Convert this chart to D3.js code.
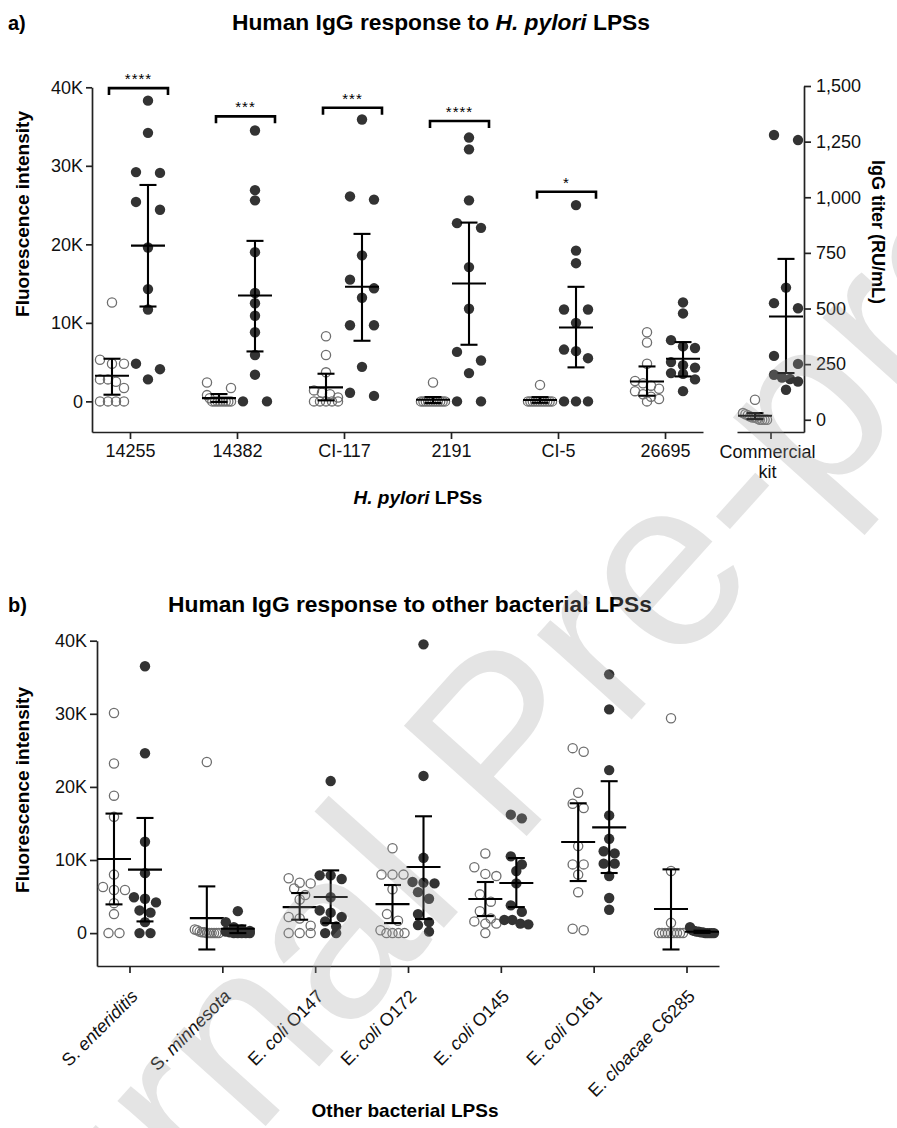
<!DOCTYPE html>
<html>
<head>
<meta charset="utf-8">
<script src="https://cdn.jsdelivr.net/npm/d3@7"></script>
<style>
  body { margin: 0; background: #fff; }
  text { font-family: "Liberation Sans", Arial, sans-serif; }
</style>
</head>
<body>
<svg id="fig" width="897" height="1128"></svg>
<script>
// ---- panel a: H. pylori LPSs (fluorescence) ----
var aCats = ["14255", "14382", "CI-117", "2191", "CI-5", "26695"];
var aCtrl = [
  [12600, 5300, 4800, 4800, 2800, 2500, 2800, 1700, 0, 0, 0, 0],
  [2400, 1700, 800, 400, 0, 0, 0, 0, 0, 0, 0, 0],
  [8300, 5900, 3700, 1400, 1100, 900, 500, 0, 0, 0, 0, 0],
  [2400, 0, 0, 0, 0, 0, 0, 0, 0, 0, 0, 0],
  [2100, 0, 0, 0, 0, 0, 0, 0, 0, 0, 0, 0],
  [8800, 7500, 4800, 2600, 2300, 2000, 1600, 1300, 900, 600, 300, 0]
];
var aPat = [
  [38300, 34200, 29100, 29200, 25400, 24400, 19600, 14300, 11700, 4800, 4100, 2800],
  [34500, 25600, 26900, 19000, 13800, 12500, 10900, 8800, 5900, 3400, 0, 0],
  [35900, 25700, 26100, 18600, 14400, 15500, 13200, 9700, 9700, 4400, 700, 1100],
  [33600, 32100, 25600, 22100, 22700, 17100, 11800, 6300, 5200, 3600, 0, 0],
  [25000, 19200, 17600, 11700, 11700, 10000, 6600, 6400, 5500, 0, 0, 0],
  [12600, 11200, 7800, 7000, 6800, 5000, 4600, 4300, 3600, 3500, 2800, 1300]
];
// mean, lower, upper (95% CI) as drawn
var aCtrlBar = [[3270, 850, 5430], [420, -80, 930], [1780, 130, 3520], [210, -210, 550], [180, -180, 540], [2540, 720, 4450]];
var aPatBar = [[19840, 12080, 27560], [13480, 6360, 20440], [14590, 7720, 21330], [15010, 7210, 22770], [9410, 4330, 14590], [5430, 3180, 7550]];
var aSig = ["****", "***", "***", "****", "*"];
var aSigAt = [39900, 36300, 37400, 35700, 26700];

// commercial kit (IgG titer, RU/mL)
var kitCtrl = [90, 30, 25, 20, 15, 10, 10, 5, 0, 0, 0, 0];
var kitPat = [1280, 1257, 594, 524, 501, 287, 251, 202, 190, 183, 172, 135];
var kitCtrlBar = [18, 3, 30];
var kitPatBar = [464, 210, 723];

// ---- panel b: other bacterial LPSs ----
var bCats = ["S. enteriditis", "S. minnesota", "E. coli O147", "E. coli O172", "E. coli O145", "E. coli O161", "E. cloacae C6285"];
var bCtrl = [
  [30100, 23200, 18800, 15900, 8000, 5900, 6300, 5900, 4100, 2600, 0, 0],
  [23400, 500, 400, 200, 100, 100, 0, 0, 0, 0, 0, 0],
  [7500, 6900, 6800, 6100, 5200, 4600, 2200, 2000, 1000, 0, 0, 0],
  [11600, 8000, 8000, 8000, 6000, 2600, 1700, 400, 0, 0, 0, 0],
  [10900, 9000, 8100, 7800, 5300, 4300, 3000, 2000, 1600, 1300, 1300, 0],
  [24800, 25300, 19200, 17100, 17700, 11900, 9400, 9400, 8000, 5600, 400, 600],
  [29400, 8500, 1400, 0, 0, 0, 0, 0, 0, 0, 0, 0]
];
var bPat = [
  [36500, 24600, 12500, 8200, 4700, 4900, 4200, 3100, 2800, 1500, 0, 0],
  [3000, 1500, 800, 500, 300, 200, 100, 0, 0, 0, 0, 0],
  [20800, 7900, 7400, 7900, 4900, 2800, 3100, 2200, 1600, 900, 0, 0],
  [39500, 21500, 10300, 7000, 6800, 6900, 5600, 4700, 2600, 1500, 1100, 200],
  [16200, 15700, 10500, 9400, 8500, 6800, 3800, 2900, 1800, 1800, 1300, 1200],
  [35400, 30600, 22300, 16100, 12900, 11200, 10900, 9500, 9500, 7800, 4800, 3200],
  [800, 400, 300, 200, 200, 100, 100, 0, 0, 0, 0, 0]
];
var bCtrlBar = [[10140, 3930, 16350], [2050, -2240, 6390], [3560, 1830, 5480], [3970, 1370, 6580], [4660, 2330, 6990], [12470, 7120, 17760], [3290, -2240, 8720]];
var bPatBar = [[8680, 1600, 15750], [590, 0, 1050], [4930, 1370, 8580], [9040, 1920, 15980], [6850, 3560, 10270], [14470, 8220, 20780], [180, 30, 330]];

var kTicks = [0, 10000, 20000, 30000, 40000];
var titerTicks = [0, 250, 500, 750, 1000, 1250, 1500];

var svg = d3.select("#fig");

function kfmt(d) { return d === 0 ? "0" : (d / 1000) + "K"; }

function styleAxis(g) {
  g.attr("font-family", "Liberation Sans, Arial, sans-serif").attr("font-size", 18);
  g.select(".domain").attr("stroke", "#222").attr("stroke-width", 1.7);
  g.selectAll(".tick line").attr("stroke", "#222").attr("stroke-width", 1.7);
  g.selectAll(".tick text").attr("fill", "#111");
}

// simple row-based swarm, like the prism scatter layout
function swarm(vals, y, half, fixed) {
  var pts = vals.map(function (v) { return { v: v, y: y(v) }; });
  pts.sort(function (a, b) { return a.y - b.y; });
  var rows = [], row = null;
  pts.forEach(function (p) {
    if (row && p.y - row[0].y < 9) row.push(p);
    else { row = [p]; rows.push(row); }
  });
  rows.forEach(function (r) {
    var k = r.length;
    if (k === 1) { r[0].dx = 0; return; }
    var step = fixed ? 2 * half / (k - 1) : Math.min(11, 2 * half / (k - 1));
    r.forEach(function (p, j) { p.dx = (j - (k - 1) / 2) * step; });
  });
  return pts;
}

function drawGroup(g, vals, bar, cx, y, filled, fixed) {
  var pts = swarm(vals, y, 12, fixed);
  g.append("g").selectAll("circle")
    .data(pts)
    .enter().append("circle")
    .attr("cx", function (d) { return cx + d.dx; })
    .attr("cy", function (d) { return d.y; })
    .attr("r", filled ? 5.2 : 4.6)
    .attr("fill", filled ? "#333" : "none")
    .attr("stroke", filled ? "none" : "#6e6e6e")
    .attr("stroke-width", 1.3);

  var eb = g.append("g").attr("stroke", "#000").attr("stroke-width", 2.1);
  eb.append("line").attr("x1", cx).attr("x2", cx).attr("y1", y(bar[1])).attr("y2", y(bar[2]));
  [bar[1], bar[2]].forEach(function (v) {
    eb.append("line").attr("x1", cx - 8.5).attr("x2", cx + 8.5).attr("y1", y(v)).attr("y2", y(v));
  });
  eb.append("line").attr("x1", cx - 17).attr("x2", cx + 17).attr("y1", y(bar[0])).attr("y2", y(bar[0]));
}

// ===== panel a =====
var yA = d3.scaleLinear().domain([-3900, 40000]).range([432, 87.3]);
var xA = d3.scalePoint().domain(aCats).range([92, 703]).padding(0.355);

svg.append("text").attr("x", 8).attr("y", 30).attr("font-weight", "bold").attr("font-size", 20).text("a)");
svg.append("text").attr("x", 441).attr("y", 30).attr("text-anchor", "middle")
  .attr("font-weight", "bold").attr("font-size", 22.8)
  .call(function (t) {
    t.append("tspan").text("Human IgG response to ");
    t.append("tspan").attr("font-style", "italic").text("H. pylori");
    t.append("tspan").text(" LPSs");
  });

var gA = svg.append("g");
gA.append("g").attr("transform", "translate(92,0)")
  .call(d3.axisLeft(yA).tickValues(kTicks).tickFormat(kfmt).tickSize(6).tickPadding(3).tickSizeOuter(0))
  .call(styleAxis);
gA.append("g").attr("transform", "translate(0,432)")
  .call(d3.axisBottom(xA).tickSize(7).tickPadding(5).tickSizeOuter(0))
  .call(styleAxis);

aCats.forEach(function (c, i) {
  var cx = xA(c);
  drawGroup(gA, aCtrl[i], aCtrlBar[i], cx - 18, yA, false, true);
  drawGroup(gA, aPat[i], aPatBar[i], cx + 18, yA, true, true);
});

// significance brackets
var sig = gA.append("g");
aSig.forEach(function (s, i) {
  var cx = xA(aCats[i]), yy = yA(aSigAt[i]);
  sig.append("path")
    .attr("d", "M" + (cx - 21) + "," + (yy + 7) + "V" + yy + "H" + (cx + 38) + "V" + (yy + 7))
    .attr("fill", "none").attr("stroke", "#000").attr("stroke-width", 2.6);
  sig.append("text").attr("x", cx + 8.5).attr("y", yy - 4).attr("text-anchor", "middle")
    .attr("font-size", 15).attr("letter-spacing", 1).text(s);
});

svg.append("text").attr("transform", "translate(29,214) rotate(-90)").attr("text-anchor", "middle")
  .attr("font-weight", "bold").attr("font-size", 19).text("Fluorescence intensity");
svg.append("text").attr("x", 418).attr("y", 504).attr("text-anchor", "middle")
  .attr("font-weight", "bold").attr("font-size", 19)
  .call(function (t) {
    t.append("tspan").attr("font-style", "italic").text("H. pylori");
    t.append("tspan").text(" LPSs");
  });

// commercial kit, right axis
var yK = d3.scaleLinear().domain([-55, 1500]).range([432, 86]);
var xK = d3.scalePoint().domain(["kit"]).range([737, 804]).padding(0.5);
gA.append("g").attr("transform", "translate(0,432)")
  .call(d3.axisBottom(xK).tickSize(7).tickFormat("").tickSizeOuter(0))
  .call(styleAxis);
gA.append("g").attr("transform", "translate(804,0)")
  .call(d3.axisRight(yK).tickValues(titerTicks).tickFormat(d3.format(",")).tickSize(7).tickPadding(5).tickSizeOuter(0))
  .call(styleAxis);
svg.append("text").attr("x", xK("kit") - 3).attr("y", 458).attr("text-anchor", "middle")
  .attr("font-size", 18).attr("fill", "#111")
  .call(function (t) {
    t.append("tspan").attr("x", xK("kit") - 3).text("Commercial");
    t.append("tspan").attr("x", xK("kit") - 3).attr("dy", 20).text("kit");
  });
drawGroup(gA, kitCtrl, kitCtrlBar, xK("kit") - 15.5, yK, false, true);
drawGroup(gA, kitPat, kitPatBar, xK("kit") + 15.5, yK, true, true);
svg.append("text").attr("transform", "translate(872,232) rotate(90)").attr("text-anchor", "middle")
  .attr("font-weight", "bold").attr("font-size", 18).text("IgG titer (RU/mL)");

// ===== panel b =====
var yB = d3.scaleLinear().domain([-4500, 40000]).range([966, 640.7]);
var xB = d3.scalePoint().domain(bCats).range([97, 719]).padding(0.35);

svg.append("text").attr("x", 8).attr("y", 612).attr("font-weight", "bold").attr("font-size", 20).text("b)");
svg.append("text").attr("x", 410).attr("y", 612).attr("text-anchor", "middle")
  .attr("font-weight", "bold").attr("font-size", 22.8).text("Human IgG response to other bacterial LPSs");

var gB = svg.append("g");
gB.append("g").attr("transform", "translate(97,0)")
  .call(d3.axisLeft(yB).tickValues(kTicks).tickFormat(kfmt).tickSize(7).tickPadding(3).tickSizeOuter(0))
  .call(styleAxis);
gB.append("g").attr("transform", "translate(0,966)")
  .call(d3.axisBottom(xB).tickSize(7).tickFormat("").tickSizeOuter(0))
  .call(styleAxis);

bCats.forEach(function (c, i) {
  var cx = xB(c), parts = c.split(" ");
  gB.append("text")
    .attr("transform", "translate(" + (cx + 5) + ",993) rotate(-45)")
    .attr("text-anchor", "end").attr("dy", "0.35em")
    .attr("font-size", 18).attr("fill", "#111")
    .call(function (t) {
      t.append("tspan").text(parts[0] + " ");
      t.append("tspan").attr("font-style", "italic").text(parts[1]);
      if (parts.length > 2) t.append("tspan").text(" " + parts.slice(2).join(" "));
    });
  drawGroup(gB, bCtrl[i], bCtrlBar[i], cx - 15.5, yB, false, false);
  drawGroup(gB, bPat[i], bPatBar[i], cx + 15.5, yB, true, false);
});

svg.append("text").attr("transform", "translate(29,790) rotate(-90)").attr("text-anchor", "middle")
  .attr("font-weight", "bold").attr("font-size", 19).text("Fluorescence intensity");
svg.append("text").attr("x", 405).attr("y", 1117).attr("text-anchor", "middle")
  .attr("font-weight", "bold").attr("font-size", 19).text("Other bacterial LPSs");

// watermark
svg.append("text").attr("transform", "translate(500,740) rotate(-48)")
  .attr("text-anchor", "middle").attr("dy", "0.35em")
  .attr("font-size", 240).attr("fill", "#9d9d9d").attr("opacity", 0.27)
  .text("Journal Pre-proof");
</script>
</body>
</html>
